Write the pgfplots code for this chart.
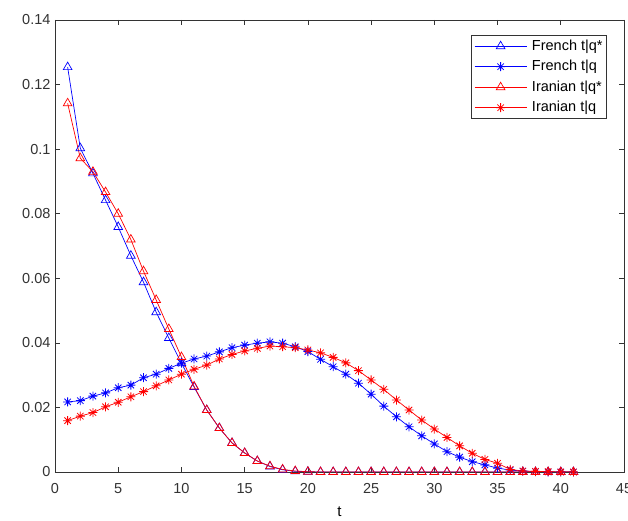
\documentclass[border=0pt]{standalone}
\usepackage{pgfplots}
\pgfplotsset{compat=1.18}
\usepackage{pgfplotstable}
\usepackage{fontspec}
\setmainfont{Liberation Sans}
\pgfdeclareplotmark{mstar}{%
 \pgfpathmoveto{\pgfqpoint{-\pgfplotmarksize}{0pt}}\pgfpathlineto{\pgfqpoint{\pgfplotmarksize}{0pt}}%
 \pgfpathmoveto{\pgfqpoint{0pt}{-\pgfplotmarksize}}\pgfpathlineto{\pgfqpoint{0pt}{\pgfplotmarksize}}%
 \pgfpathmoveto{\pgfqpoint{-.707\pgfplotmarksize}{-.707\pgfplotmarksize}}\pgfpathlineto{\pgfqpoint{.707\pgfplotmarksize}{.707\pgfplotmarksize}}%
 \pgfpathmoveto{\pgfqpoint{-.707\pgfplotmarksize}{.707\pgfplotmarksize}}\pgfpathlineto{\pgfqpoint{.707\pgfplotmarksize}{-.707\pgfplotmarksize}}%
 \pgfusepathqstroke}
\pgfplotstableread{
t frq frqs irq irqs
1 0.1254 0.0217 0.1142 0.0159
2 0.1003 0.0221 0.0972 0.0173
3 0.0925 0.0235 0.0930 0.0184
4 0.0842 0.0245 0.0867 0.0202
5 0.0759 0.0261 0.0800 0.0216
6 0.0670 0.0269 0.0720 0.0233
7 0.0588 0.0292 0.0622 0.0249
8 0.0495 0.0303 0.0533 0.0267
9 0.0415 0.0321 0.0443 0.0285
10 0.0337 0.0337 0.0356 0.0303
11 0.0263 0.0350 0.0265 0.0318
12 0.0192 0.0359 0.0192 0.0331
13 0.0136 0.0372 0.0136 0.0350
14 0.0090 0.0385 0.0090 0.0364
15 0.0059 0.0393 0.0059 0.0375
16 0.0034 0.0399 0.0034 0.0383
17 0.0017 0.0403 0.0018 0.0390
18 0.0007 0.0399 0.0008 0.0388
19 0.0002 0.0388 0.0003 0.0385
20 0.0001 0.0373 0.0001 0.0378
21 0 0.0349 0 0.0369
22 0 0.0326 0 0.0355
23 0 0.0303 0 0.0338
24 0 0.0275 0 0.0314
25 0 0.0241 0 0.0285
26 0 0.0204 0 0.0256
27 0 0.0171 0 0.0223
28 0 0.0140 0 0.0192
29 0 0.0112 0 0.0161
30 0 0.0087 0 0.0133
31 0 0.0063 0 0.0107
32 0 0.0046 0 0.0081
33 0 0.0032 0 0.0058
34 0 0.0022 0 0.0039
35 0 0.0012 0 0.0027
36 0 0.0006 0 0.0008
37 0 0.0003 0 0.0003
38 0 0.0001 0 0.0002
39 0 0 0 0.0001
40 0 0 0 0
41 0 0 0 0
}\data
\begin{document}
\begin{tikzpicture}
\begin{axis}[
 scale only axis, width=569pt, height=452pt,
 xmin=0, xmax=45, ymin=0, ymax=0.14,
 xtick={0,5,...,45},
 ytick={0,0.02,0.04,0.06,0.08,0.1,0.12,0.14},
 yticklabels={0,0.02,0.04,0.06,0.08,0.1,0.12,0.14},
 tick align=inside, major tick length=5pt,
 axis line style={black!80, line width=0.6pt},
 tick style={black!80, line width=0.6pt},
 ticklabel style={font=\fontsize{14.5}{17}\selectfont, text=black!80},
 yticklabel style={xshift=-1pt},
 xticklabel style={yshift=-8pt},
 /pgf/number format/assume math mode=true,
 xlabel={t}, xlabel style={font=\fontsize{15}{17}\selectfont, yshift=-6pt},
 legend style={at={(0.970,0.967)}, anchor=north east, draw=black!80, line width=0.6pt,
   font=\fontsize{14.5}{17}\selectfont, row sep=4.5pt, inner xsep=3pt, inner ysep=3pt,
   nodes={inner sep=1pt, text height=11pt, text depth=3pt}},
 legend cell align=left,
 legend image code/.code={\draw[mark repeat=2,mark phase=2] plot coordinates {(0pt,0pt)(26pt,0pt)(52pt,0pt)};},
]
\addplot[blue, line width=0.7pt, mark=triangle, mark size=5pt, mark options={line width=0.7pt}] table[x=t,y=frq] {\data};
\addlegendentry{\hspace{4pt}French t|q*}
\addplot[blue, line width=0.7pt, mark=mstar, mark size=4.5pt, mark options={line width=0.8pt}] table[x=t,y=frqs] {\data};
\addlegendentry{\hspace{4pt}French t|q}
\addplot[red, line width=0.7pt, mark=triangle, mark size=5pt, mark options={line width=0.7pt}] table[x=t,y=irq] {\data};
\addlegendentry{\hspace{4pt}Iranian t|q*}
\addplot[red, line width=0.7pt, mark=mstar, mark size=4.5pt, mark options={line width=0.8pt}] table[x=t,y=irqs] {\data};
\addlegendentry{\hspace{4pt}Iranian t|q}
\end{axis}
\pgfresetboundingbox
\path[use as bounding box] ([shift={(-55pt,-49pt)}]current axis.south west) rectangle ([shift={(4pt,20pt)}]current axis.north east);
\end{tikzpicture}
\end{document}
